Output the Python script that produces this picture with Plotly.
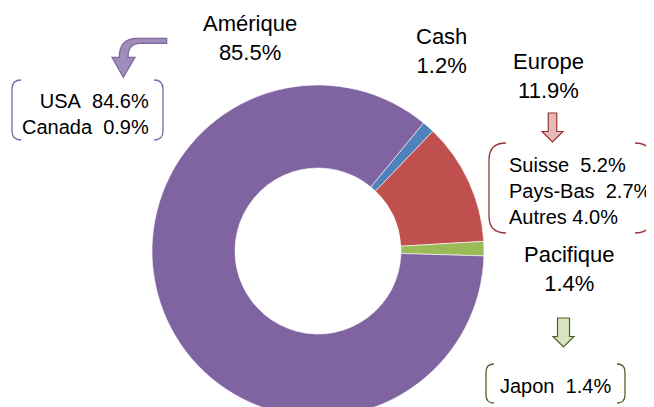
import plotly.graph_objects as go

W, H = 654, 430      # figure size; the page body adds an 8px margin
OFF = 8

# Data
regions = ["Cash", "Europe", "Pacifique", "Amérique"]
shares = [1.2, 11.9, 1.4, 85.5]
colors = ["#4F81BD", "#C0504D", "#9BBB59", "#8064A2"]

amerique_detail = [("USA", 84.6), ("Canada", 0.9)]
europe_detail = [("Suisse", 5.2), ("Pays-Bas", 2.7), ("Autres", 4.0)]
pacifique_detail = [("Japon", 1.4)]

NB = "\u00a0"

def X(sx):
    return (sx - OFF) / W

def Y(sy):
    return 1 - (sy - OFF) / H

def P(x, y):
    return f"{X(x):.5f},{Y(y):.5f}"

fig = go.Figure()
fig.add_trace(go.Pie(
    labels=regions, values=shares, sort=False, direction="clockwise",
    rotation=39.5, hole=0.5, textinfo="none", hoverinfo="label+percent",
    marker=dict(colors=colors, line=dict(color="white", width=0.6)),
    domain=dict(x=[X(152), X(484)], y=[Y(417), Y(85)]),
    showlegend=False,
))

big = dict(family="Liberation Sans, Arial, sans-serif", size=22, color="#000000")
small = dict(family="Liberation Sans, Arial, sans-serif", size=20, color="#000000")

def fmt(v):
    return f"{v:.1f}%"

ann = []
def add(text, x, y, font, xanchor="center", align="center"):
    ann.append(dict(text=text, x=X(x), y=Y(y), xref="paper", yref="paper",
                    xanchor=xanchor, yanchor="middle", align=align,
                    showarrow=False, font=font, borderpad=0))

share = dict(zip(regions, shares))
add(f"Amérique<br>{fmt(share['Amérique'])}", 250, 38, big)
add(f"Cash<br>{fmt(share['Cash'])}", 441, 51, big)
add(f"Europe<br>{fmt(share['Europe'])}", 548, 76, big)
add(f"Pacifique<br>{fmt(share['Pacifique'])}", 569, 269, big)
add("<br>".join(f"{n}{NB}{NB}{fmt(v)}" for n, v in amerique_detail), 150, 113.5, small,
    xanchor="right", align="right")
add("<br>".join(f"{n}{NB}{NB}{fmt(v)}" if n != "Autres" else f"{n}{NB}{fmt(v)}"
                for n, v in europe_detail), 508, 191, small, xanchor="left", align="left")
add("<br>".join(f"{n}{NB}{NB}{fmt(v)}" for n, v in pacifique_detail), 555, 386, small)

shapes = []

def bracket(x0, x1, y0, y1, r, color):
    left = (f"M {P(x0 + r, y0)} Q {P(x0, y0)} {P(x0, y0 + r)} "
            f"L {P(x0, y1 - r)} Q {P(x0, y1)} {P(x0 + r, y1)}")
    right = (f"M {P(x1 - r, y0)} Q {P(x1, y0)} {P(x1, y0 + r)} "
             f"L {P(x1, y1 - r)} Q {P(x1, y1)} {P(x1 - r, y1)}")
    for p in (left, right):
        shapes.append(dict(type="path", path=p, xref="paper", yref="paper",
                           line=dict(color=color, width=1.3)))

bracket(12, 163, 80, 140, 9, "#7F64A2")
bracket(489, 652, 143, 233, 17, "#953735")
bracket(486, 625, 364, 403, 8, "#4F6228")

def down_arrow(cx, y0, yh, y1, sw, hw, fill, line):
    p = (f"M {P(cx - sw/2, y0)} L {P(cx + sw/2, y0)} L {P(cx + sw/2, yh)} "
         f"L {P(cx + hw/2, yh)} L {P(cx, y1)} L {P(cx - hw/2, yh)} "
         f"L {P(cx - sw/2, yh)} Z")
    shapes.append(dict(type="path", path=p, xref="paper", yref="paper",
                       fillcolor=fill, line=dict(color=line, width=1.2)))

down_arrow(552.5, 113, 131.5, 142, 8.5, 21, "#E6B9B8", "#953735")
down_arrow(563.5, 318, 336.5, 347, 12, 21, "#D7E4BD", "#4F6228")

curved = (f"M {P(166.7, 38.3)} L {P(137, 38.3)} Q {P(119.3, 38.3)} {P(119.3, 57.3)} "
          f"L {P(112, 57.3)} L {P(123.3, 77.3)} L {P(135, 57.3)} L {P(128, 57.3)} "
          f"Q {P(128, 43.3)} {P(140, 43.3)} L {P(166.7, 43.3)} Z")
shapes.append(dict(type="path", path=curved, xref="paper", yref="paper",
                   fillcolor="#9E8CB9", line=dict(color="#7F64A2", width=1.2)))

fig.update_layout(width=W, height=H, margin=dict(l=0, r=0, t=0, b=0),
                  paper_bgcolor="white", plot_bgcolor="white",
                  annotations=ann, shapes=shapes)

fig.write_html("out.html")
